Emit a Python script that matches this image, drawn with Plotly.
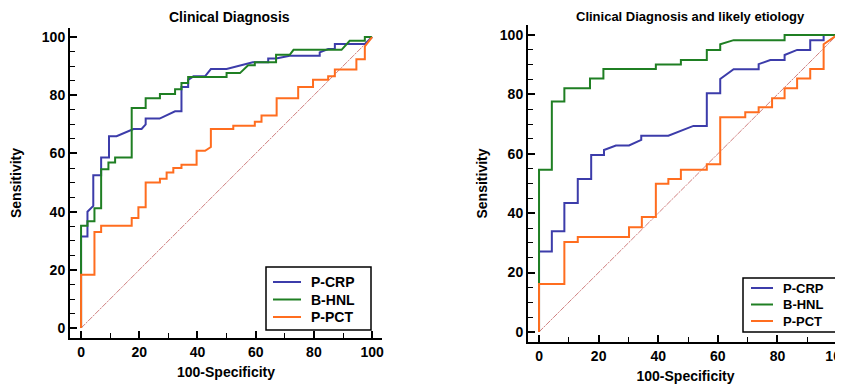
import plotly.graph_objects as go

# ---------------- data (ROC curve vertices: 100-Specificity, Sensitivity) ----------------
titles = ["Clinical Diagnosis", "Clinical Diagnosis and likely etiology"]
series_names = ["P-CRP", "B-HNL", "P-PCT"]
tick_vals = [0, 20, 40, 60, 80, 100]
x_title = "100-Specificity"
y_title = "Sensitivity"

# Left panel: Clinical Diagnosis
l_crp_x = [0, 0, 2.2, 2.2, 4.2, 4.2, 6.9, 6.9, 9.6, 9.6, 12.2, 18, 20.8, 22.2, 22.2, 27, 32.3, 34.5, 34.5, 36.8, 36.8, 38.6, 42.6, 44.6, 50, 59, 64.3, 64.3, 67, 71.7, 82, 82, 84.9, 87.2, 87.2, 97.5, 100]
l_crp_y = [0, 31.5, 31.5, 40, 42, 52.5, 52.5, 58.6, 58.6, 65.9, 65.9, 68.4, 68.4, 70, 72, 72, 74.5, 74.5, 82.8, 82.8, 85.3, 86.5, 86.5, 89, 89, 91.3, 91.3, 92.6, 92.6, 93.6, 93.6, 94.7, 95.9, 95.9, 97.6, 97.6, 100]

l_hnl_x = [0, 0, 2.2, 2.2, 4.6, 4.6, 6.9, 6.9, 9.4, 9.4, 11.7, 11.7, 17.4, 17.4, 22.2, 22.2, 27.1, 27.1, 32.3, 32.3, 34.5, 34.5, 36.8, 36.8, 50, 50, 54.6, 57.4, 59.7, 59.7, 67, 67, 71.7, 73, 89.5, 92.3, 97.5, 97.5, 100]
l_hnl_y = [0, 35.2, 35.2, 36.7, 36.7, 41.2, 41.2, 54.6, 54.6, 56.9, 56.9, 58.6, 58.6, 75.6, 75.6, 79, 79, 80.4, 80.4, 82.1, 82.1, 84.2, 84.2, 86.3, 86.3, 87.6, 87.6, 90.3, 90.3, 91.3, 91.3, 93.9, 93.9, 95.6, 95.6, 98.7, 98.7, 100, 100]

l_pct_x = [0, 0, 4.6, 4.6, 6.9, 6.9, 17.4, 17.4, 19.7, 19.7, 22.2, 22.2, 27.1, 27.1, 29.4, 29.4, 31.7, 31.7, 34.5, 34.5, 39.7, 39.7, 42.6, 44.6, 44.6, 52.3, 52.3, 59.7, 59.7, 62, 62, 67.2, 67.2, 74.6, 74.6, 79.7, 79.7, 84.9, 84.9, 87.2, 87.2, 94.6, 94.6, 97.5, 97.5, 100]
l_pct_y = [0, 18.3, 18.3, 33, 33, 35.2, 35.2, 37.8, 37.8, 41.5, 41.5, 50, 50, 51.3, 51.3, 53.5, 53.5, 55, 55, 56.1, 56.1, 60.9, 60.9, 62.2, 68.4, 68.4, 69.5, 69.5, 70.9, 70.9, 73, 73, 79, 79, 82.8, 82.8, 85.3, 85.3, 86.5, 86.5, 88.8, 88.8, 92.4, 92.4, 96.8, 100]

# Right panel: Clinical Diagnosis and likely etiology
r_crp_x = [0, 0, 4.3, 4.3, 8.5, 8.5, 13, 13, 17.5, 17.5, 21.8, 21.8, 25.8, 30.2, 34.3, 34.3, 43.4, 51.8, 56.3, 56.3, 60.8, 60.8, 65.3, 73.7, 73.7, 77.6, 82.4, 82.4, 86.6, 91, 91, 95.5, 95.5, 100]
r_crp_y = [0, 27.1, 27.1, 33.9, 33.9, 43.4, 43.4, 51.5, 51.5, 59.6, 59.6, 61.3, 62.8, 62.8, 64.7, 66.1, 66.1, 69.4, 69.4, 80.4, 80.4, 85.2, 88.5, 88.5, 90.2, 91.6, 91.6, 93.3, 95, 95, 98.3, 98.3, 100, 100]

r_hnl_x = [0, 0, 4.3, 4.3, 8.5, 8.5, 17.1, 17.1, 21.6, 21.6, 39.2, 39.2, 47.6, 47.6, 56.3, 56.3, 60.8, 60.8, 65.3, 82.4, 82.4, 100]
r_hnl_y = [0, 54.6, 54.6, 77.6, 77.6, 82.1, 82.1, 85.4, 85.4, 88.6, 88.6, 90.1, 90.1, 91.6, 91.6, 95, 95, 96.9, 98.3, 98.3, 100, 100]

r_pct_x = [0, 0, 8.5, 8.5, 13, 13, 30.2, 30.2, 34.5, 34.5, 39.2, 39.2, 43.4, 43.4, 47.6, 47.6, 56.3, 56.3, 60.8, 60.8, 69.2, 69.2, 73.7, 73.7, 78.2, 78.2, 82.4, 82.4, 86.6, 86.6, 91, 91, 95.5, 95.5, 100]
r_pct_y = [0, 16.1, 16.1, 30.3, 30.3, 32, 32, 35.3, 35.3, 38.7, 38.7, 49.9, 49.9, 51.5, 51.5, 54.6, 54.6, 56.5, 56.5, 72.3, 72.3, 74, 74, 75.7, 75.7, 78.7, 78.7, 82.1, 82.1, 85.4, 85.4, 88.6, 88.6, 96.9, 100]

ref_x = [0, 100]
ref_y = [0, 100]

# ---------------- styling / layout helpers ----------------
colors = {"P-CRP": "#3c3caa", "B-HNL": "#1f7f23", "P-PCT": "#ff6d1f"}
FONT = "Liberation Sans, Arial, sans-serif"

# The page body adds an 8px offset; the figure is sized to fill the 843x385 window.
OFF = 8
W, H = 843 - OFF, 385 - OFF


def px(xw):
    return (xw - OFF) / W


def py(yw):
    return 1 - (yw - OFF) / H


fig = go.Figure()

panels = [
    ("x", "y", [(l_crp_x, l_crp_y), (l_hnl_x, l_hnl_y), (l_pct_x, l_pct_y)]),
    ("x2", "y2", [(r_crp_x, r_crp_y), (r_hnl_x, r_hnl_y), (r_pct_x, r_pct_y)]),
]

for xa, ya, curves in panels:
    fig.add_trace(go.Scatter(x=ref_x, y=ref_y, mode="lines", xaxis=xa, yaxis=ya,
                             line=dict(color="#d08080", width=1, dash="6px,1px,2px,1px"),
                             showlegend=False, hoverinfo="skip"))
    for name, (cx, cy) in zip(series_names, curves):
        fig.add_trace(go.Scatter(x=cx, y=cy, mode="lines", name=name, xaxis=xa, yaxis=ya,
                                 showlegend=False, line=dict(color=colors[name], width=2)))


def axis_common(dtick_minor):
    return dict(
        showline=True, linecolor="black", linewidth=2,
        ticks="inside", ticklen=7, tickwidth=1.5, tickcolor="black",
        tickvals=tick_vals, showgrid=False, zeroline=False,
        tickfont=dict(family=FONT, size=14, color="black", weight="bold"),
        minor=dict(dtick=dtick_minor, tick0=0, ticks="inside", ticklen=5,
                   tickwidth=1.2, tickcolor="black"),
        fixedrange=True, automargin=False, ticklabeloverflow="allow",
    )


axis_title_font = dict(family=FONT, size=14, color="black", weight="bold")

# ---------------- legend boxes (drawn as shapes + text) ----------------
shapes = []
annotations = []
legend_specs = [
    # box x0, x1, y0, y1, line x0, x1, text x, entry ys, font size
    (266, 371, 267, 330, 273, 301, 309, [282, 299.5, 317], 14),
    (743, 837, 278, 332, 751, 773, 781, [288, 304.5, 321], 13),
]
for bx0, bx1, by0, by1, lx0, lx1, tx, ys, fs in legend_specs:
    shapes.append(dict(type="rect", xref="paper", yref="paper",
                       x0=px(bx0), x1=px(bx1), y0=py(by1), y1=py(by0),
                       line=dict(color="black", width=1.5), fillcolor="white", layer="above"))
    for name, yy in zip(series_names, ys):
        shapes.append(dict(type="line", xref="paper", yref="paper",
                           x0=px(lx0), x1=px(lx1), y0=py(yy), y1=py(yy),
                           line=dict(color=colors[name], width=2), layer="above"))
        annotations.append(dict(text=name, x=px(tx), y=py(yy), xref="paper", yref="paper",
                                showarrow=False, xanchor="left", yanchor="middle",
                                font=dict(family=FONT, size=fs, color="black", weight="bold")))

annotations += [
    dict(text=titles[0], x=px(230), y=1.0, xref="paper", yref="paper",
         showarrow=False, xanchor="center", yanchor="top", borderpad=0,
         font=dict(family=FONT, size=14, color="black", weight="bold")),
    dict(text=titles[1], x=px(690), y=1.0, xref="paper", yref="paper",
         showarrow=False, xanchor="center", yanchor="top", borderpad=0,
         font=dict(family=FONT, size=13, color="black", weight="bold")),
]

fig.update_layout(
    width=W, height=H,
    margin=dict(l=0, r=0, t=0, b=0),
    paper_bgcolor="white", plot_bgcolor="white",
    xaxis=dict(domain=[px(70), px(382)], range=[-3.8, 103.4], anchor="y",
               title=dict(text=x_title, font=axis_title_font, standoff=8),
               **axis_common(10)),
    yaxis=dict(domain=[py(338), py(28)], range=[-3.4, 103.1], anchor="x",
               title=dict(text=y_title, font=axis_title_font, standoff=17),
               **axis_common(5)),
    xaxis2=dict(domain=[px(528), 1.0], range=[-3.7, 102.0], anchor="y2",
                title=dict(text=x_title, font=axis_title_font, standoff=8),
                **axis_common(10)),
    yaxis2=dict(domain=[py(342), py(25)], range=[-3.4, 103.4], anchor="x2",
                title=dict(text=y_title, font=axis_title_font, standoff=9),
                **axis_common(5)),
    shapes=shapes,
    annotations=annotations,
    showlegend=False,
)

fig.write_html("out.html")
